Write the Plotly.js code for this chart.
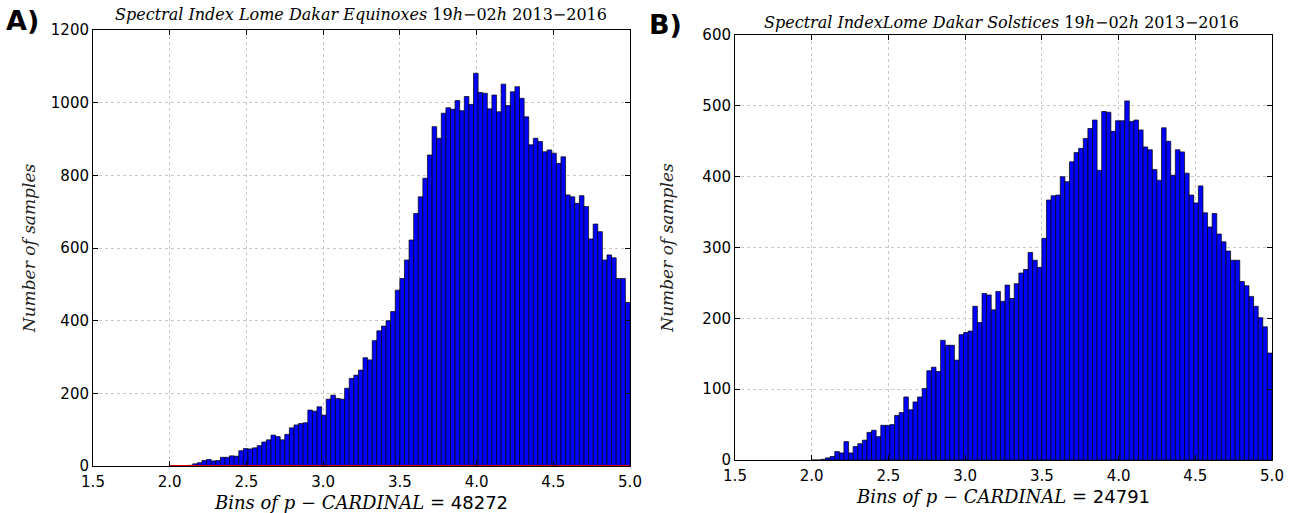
<!DOCTYPE html>
<html>
<head>
<meta charset="utf-8">
<script src="https://cdn.plot.ly/plotly-3.0.1.min.js"></script>
<style>
html,body{margin:0;padding:0;background:#ffffff;}
#chart{width:1299px;height:513px;}
</style>
</head>
<body>
<div id="chart"></div>
<script>
// ---- data ----
const BIN_MIN = 2.0;
const BIN_MAX = 5.0;
const N_BINS = 100;

const equinoxCounts = [
  0,0,0,1,2,6,9,15,18,14,
  15,24,24,28,27,42,48,47,50,56,
  66,72,85,81,72,87,105,113,117,119,
  154,151,163,140,184,195,186,184,214,241,
  250,264,298,292,345,372,385,400,425,484,
  516,567,622,695,741,792,856,934,902,971,
  986,982,1006,978,1017,995,1081,1028,1026,983,
  1021,975,1051,992,1030,1044,1012,961,884,902,
  893,865,870,861,833,851,746,741,723,744,
  714,625,666,645,567,581,573,516,516,450
];

const solsticeCounts = [
  0,0,1,3,5,12,10,26,10,19,
  23,28,39,42,33,49,49,50,63,67,
  89,71,82,89,101,126,131,125,169,162,
  162,141,177,180,182,217,194,235,233,212,
  238,224,247,228,249,264,269,293,282,272,
  313,367,373,374,400,393,421,434,440,454,
  468,480,409,492,491,464,479,479,507,478,
  480,466,442,438,410,395,469,450,402,438,
  435,405,374,363,387,349,329,348,319,308,
  295,282,282,252,246,231,217,201,188,151
];

const xTickVals = [1.5, 2.0, 2.5, 3.0, 3.5, 4.0, 4.5, 5.0];
const xTickText = ['1.5', '2.0', '2.5', '3.0', '3.5', '4.0', '4.5', '5.0'];
const yTickValsA = [0, 200, 400, 600, 800, 1000, 1200];
const yTickValsB = [0, 100, 200, 300, 400, 500, 600];
const panelLabels = ['A)', 'B)'];
const panelTitles = [
  '<i>Spectral Index Lome Dakar Equinoxes</i> 19<i>h</i>\u221202<i>h</i> 2013\u22122016',
  '<i>Spectral IndexLome Dakar Solstices</i> 19<i>h</i>\u221202<i>h</i> 2013\u22122016'
];
const cardinals = ['48272', '24791'];
const yTitle = '<i>Number of samples</i>';

// ---- build ----
const binWidth = (BIN_MAX - BIN_MIN) / N_BINS;
const binCenters = equinoxCounts.map((_, i) => BIN_MIN + binWidth * (i + 0.5));

const W = 1299, H = 513;
const px = v => v / W;
const py = v => 1 - v / H;

const serif = 'DejaVu Serif, Liberation Serif, serif';
const sans = 'DejaVu Sans, Liberation Sans, sans-serif';

function xTitleText(n) {
  return '<i>Bins of p \u2212 CARDINAL</i> = <span style="font-family:DejaVu Sans">' + n + '</span>';
}

const barStyle = {color: '#0000ff', line: {color: '#000000', width: 0.7}};

const traces = [
  {type: 'bar', x: binCenters, y: equinoxCounts, width: binWidth, marker: barStyle,
   xaxis: 'x', yaxis: 'y', hoverinfo: 'x+y', showlegend: false},
  {type: 'scatter', mode: 'lines', x: [BIN_MIN, BIN_MAX], y: [0, 0],
   line: {color: '#cc0000', width: 2}, xaxis: 'x', yaxis: 'y', showlegend: false, hoverinfo: 'skip'},
  {type: 'bar', x: binCenters, y: solsticeCounts, width: binWidth, marker: barStyle,
   xaxis: 'x2', yaxis: 'y2', hoverinfo: 'x+y', showlegend: false}
];

function xAxis(domain, anchor, n) {
  return {
    domain: domain, anchor: anchor, range: [1.5, 5.0],
    tickvals: xTickVals, ticktext: xTickText,
    ticks: 'inside', ticklen: 5, tickcolor: '#000', mirror: 'ticks',
    showline: true, linecolor: '#000', linewidth: 1,
    showgrid: true, gridcolor: '#c8c8c8', griddash: 'dot', gridwidth: 1,
    zeroline: false, automargin: false, ticklabelstandoff: 2,
    tickfont: {family: sans, size: 15, color: '#000'},
    title: {text: xTitleText(n), font: {family: serif, size: 18, color: '#000'}, standoff: 6}
  };
}
function yAxis(domain, anchor, range, ticks, standoff) {
  return {
    domain: domain, anchor: anchor, range: range, tickvals: ticks,
    ticks: 'inside', ticklen: 5, tickcolor: '#000', mirror: 'ticks',
    showline: true, linecolor: '#000', linewidth: 1,
    showgrid: true, gridcolor: '#c8c8c8', griddash: 'dot', gridwidth: 1,
    zeroline: false, automargin: false,
    tickfont: {family: sans, size: 15, color: '#000'},
    title: {text: yTitle, font: {family: serif, size: 17, color: '#222'}, standoff: standoff}
  };
}

const layout = {
  width: W, height: H,
  margin: {l: 0, r: 0, t: 0, b: 0},
  paper_bgcolor: '#ffffff', plot_bgcolor: '#ffffff',
  bargap: 0, barmode: 'overlay', showlegend: false,
  xaxis: xAxis([px(93), px(630)], 'y', cardinals[0]),
  yaxis: yAxis([py(466), py(30)], 'x', [0, 1200], yTickValsA, 10),
  xaxis2: xAxis([px(735), px(1272)], 'y2', cardinals[1]),
  yaxis2: yAxis([py(460), py(35)], 'x2', [0, 600], yTickValsB, 24),
  annotations: [
    {xref: 'paper', yref: 'paper', x: px(361), y: py(15), xanchor: 'center', yanchor: 'middle',
     text: panelTitles[0], showarrow: false, font: {family: serif, size: 16, color: '#000'}},
    {xref: 'paper', yref: 'paper', x: px(1001), y: py(22), xanchor: 'center', yanchor: 'middle',
     text: panelTitles[1], showarrow: false, font: {family: serif, size: 16, color: '#000'}},
    {xref: 'paper', yref: 'paper', x: px(4), y: py(20), xanchor: 'left', yanchor: 'middle',
     text: '<b>' + panelLabels[0] + '</b>', showarrow: false, font: {family: sans, size: 27, color: '#000'}},
    {xref: 'paper', yref: 'paper', x: px(647), y: py(24), xanchor: 'left', yanchor: 'middle',
     text: '<b>' + panelLabels[1] + '</b>', showarrow: false, font: {family: sans, size: 27, color: '#000'}}
  ]
};

Plotly.newPlot('chart', traces, layout, {staticPlot: true, displayModeBar: false});
</script>
</body>
</html>
